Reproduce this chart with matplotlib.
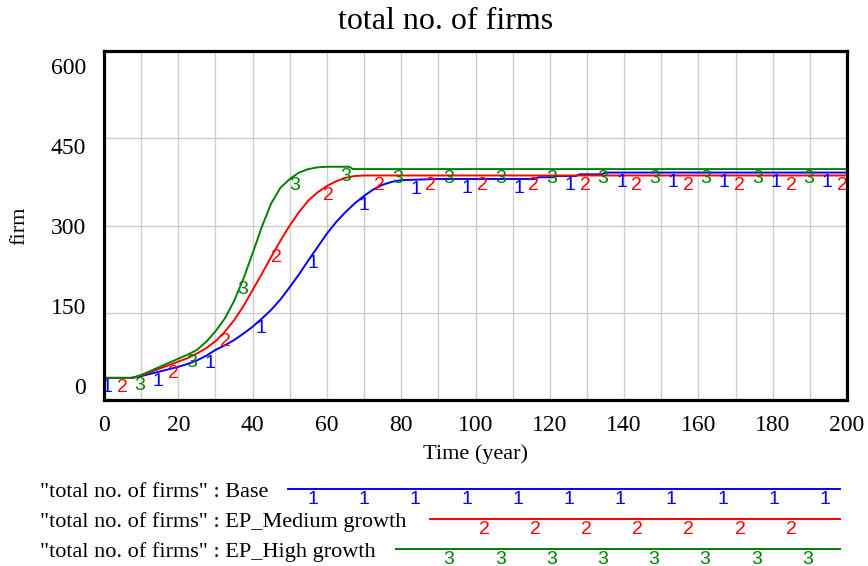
import numpy as np
import matplotlib
matplotlib.use("Agg")
import matplotlib.pyplot as plt

# data
time_base = [0, 7.5, 10, 12.5, 15, 17.5, 20, 22.5, 25, 27.5, 30, 32.5, 35, 37.5, 40, 42.5, 45,
             47.5, 50, 52.5, 55, 57.5, 60, 62.5, 65, 67.5, 70, 72.5, 75, 77.5, 80, 90,
             116, 117, 121, 122, 127, 128, 134, 135, 200]
firms_base = [38, 38, 41, 45, 49, 53, 57, 62, 68, 76, 86, 94, 103, 114, 126, 140, 155,
              173, 194, 216, 240, 263, 286, 306, 323, 338, 351, 362, 370, 375, 378, 380,
              380, 383, 383, 385, 385, 388, 388, 391, 391]

time_medium = [0, 7.5, 10, 12.5, 15, 17.5, 20, 22.5, 25, 27.5, 30, 32.5, 35, 37.5, 40, 42.5,
               45, 47.5, 50, 52.5, 55, 57.5, 60, 62.5, 65, 67.5, 70, 200]
firms_medium = [38, 38, 42, 48, 54, 60, 66, 72, 80, 89, 101, 117, 137, 161, 189, 217,
                246, 274, 300, 323, 343, 357, 368, 376, 382, 385, 386, 386]

time_high = [0, 7.5, 10, 12.5, 15, 17.5, 20, 22.5, 25, 27.5, 30, 32.5, 35, 37.5, 40, 42.5,
             45, 47.5, 50, 52.5, 55, 57.5, 60, 66, 67, 200]
firms_high = [38, 38, 43, 50, 57, 64, 71, 78, 86, 100, 118, 140, 170, 208, 252, 298,
              338, 365, 380, 391, 397, 400, 401, 401, 397, 397]

series_names = ['"total no. of firms" : Base',
                '"total no. of firms" : EP_Medium growth',
                '"total no. of firms" : EP_High growth']
series_colors = ["#0000ff", "#ff0000", "#008000"]
x_ticks = [0, 20, 40, 60, 80, 100, 120, 140, 160, 180, 200]
y_ticks = [0, 150, 300, 450, 600]

serif = "Liberation Serif"
sans = "Liberation Sans"

fig = plt.figure(figsize=(8.68, 5.66), dpi=100)
ax = fig.add_axes([104 / 868, 1 - 400 / 566, 743 / 868, 349 / 566])

series = [(time_base, firms_base), (time_medium, firms_medium), (time_high, firms_high)]
starts = [0.8, 4.9, 9.7]
for i, ((t, v), col) in enumerate(zip(series, series_colors)):
    ax.plot(t, v, color=col, lw=1.4, zorder=3)
    # vensim-style numbered markers along the curve
    for tm in np.arange(starts[i], 200.01, 13.85):
        ym = np.interp(tm, t, v)
        ax.annotate(str(i + 1), (tm, ym), xytext=(0, -1), textcoords="offset points",
                    ha="center", va="top", color=col, fontsize=14, family=sans, zorder=4)

ax.set_xlim(0, 200)
ax.set_ylim(0, 600)
ax.set_xticks(x_ticks)
ax.set_xticks(np.arange(10, 200, 20), minor=True)
ax.set_yticks(y_ticks)
ax.set_yticklabels([])
ax.grid(True, which="both", color="#cccccc", lw=1)
ax.tick_params(which="both", length=0)
ax.tick_params(axis="x", pad=11, labelsize=17)
for lab in ax.get_xticklabels():
    lab.set_family(serif)
for s in ax.spines.values():
    s.set_linewidth(2.3)
    s.set_zorder(5)

# y tick labels sit on a slightly compressed scale, like Vensim
lab_ax = ax.twinx()
lab_ax.set_ylim(-27.2, 628.2)
lab_ax.yaxis.set_ticks_position("left")
lab_ax.set_yticks(y_ticks)
lab_ax.tick_params(length=0, pad=13, labelsize=17)
for lab in lab_ax.get_yticklabels():
    lab.set_family(serif)
for s in lab_ax.spines.values():
    s.set_visible(False)

ax.set_xlabel("Time (year)", family=serif, fontsize=16, labelpad=6)
ax.set_ylabel("firm", family=serif, fontsize=16, labelpad=50)
fig.text(446 / 868, 1 - 29 / 566, "total no. of firms", family=serif, fontsize=23,
         ha="center", va="baseline")

# legend block under the chart, laid out in pixel coordinates
leg = fig.add_axes([0, 0, 1, 1], zorder=-1)
leg.set_xlim(0, 868)
leg.set_ylim(566, 0)
leg.axis("off")
text_y = [497, 527, 557]
line_x0 = [288, 430, 396]
digit_x0 = [313, 484, 449]
for i, name in enumerate(series_names):
    leg.text(40, text_y[i], name, family=serif, fontsize=16, va="baseline", ha="left")
    ly = text_y[i] - 8.5
    leg.plot([line_x0[i], 840], [ly, ly], color=series_colors[i], lw=1.4)
    for dx in np.arange(digit_x0[i], 840, 51.2):
        leg.text(dx, ly + 10.5, str(i + 1), color=series_colors[i], fontsize=14,
                 family=sans, ha="center", va="center")

fig.savefig("out.png", dpi=100)
